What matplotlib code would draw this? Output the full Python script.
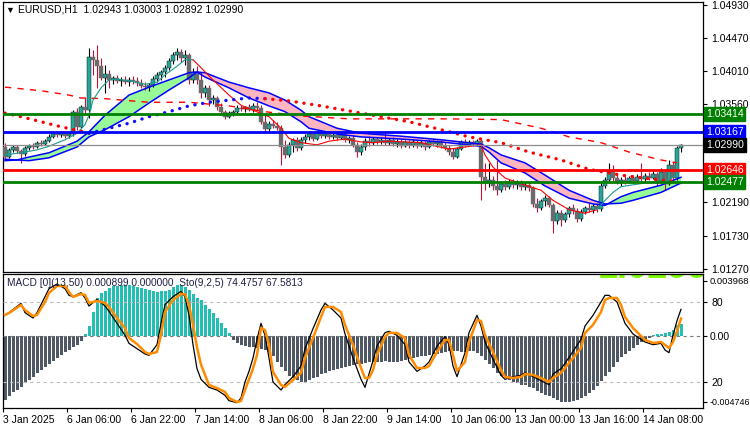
import matplotlib
matplotlib.use("Agg")
import matplotlib.pyplot as plt
import matplotlib.transforms as mtransforms
import numpy as np

plt.rcParams['font.family'] = ['Liberation Sans', 'DejaVu Sans']

# ---------------- data ----------------
title_text = "EURUSD,H1  1.02943 1.03003 1.02892 1.02990"
sub_text = "MACD [0](13,50) 0.000899 0.000000  Sto(9,2,5) 74.4757 67.5813"
x_tick_bars = [0, 16, 32, 48, 64, 80, 96, 112, 128, 144, 160]
x_tick_labels = ["3 Jan 2025", "6 Jan 06:00", "6 Jan 22:00", "7 Jan 14:00", "8 Jan 06:00",
                 "8 Jan 22:00", "9 Jan 14:00", "10 Jan 06:00", "13 Jan 00:00",
                 "13 Jan 16:00", "14 Jan 08:00"]
price_ticks = [1.04930, 1.04470, 1.04010, 1.03560, 1.03100, 1.02650, 1.02190, 1.01730, 1.01270]
hidden_price_ticks = [1.03100, 1.02650]

opens = [1.0296, 1.0282, 1.0292, 1.0296, 1.0290, 1.0286, 1.0295, 1.0297, 1.0296, 1.0302,
         1.0300, 1.0304, 1.0310, 1.0314, 1.0313, 1.0315, 1.0311, 1.0314, 1.0345, 1.0324,
         1.0352, 1.0347, 1.0421, 1.0417, 1.0408, 1.0392, 1.0397, 1.0389, 1.0392, 1.0388,
         1.0389, 1.0386, 1.0389, 1.0388, 1.0385, 1.0381, 1.0379, 1.0382, 1.0390, 1.0396,
         1.0400, 1.0406, 1.0415, 1.0424, 1.0428, 1.0419, 1.0424, 1.0389, 1.0400, 1.0389,
         1.0371, 1.0378, 1.0361, 1.0364, 1.0352, 1.0345, 1.0338, 1.0343, 1.0345, 1.0350,
         1.0349, 1.0352, 1.0347, 1.0353, 1.0350, 1.0331, 1.0321, 1.0328, 1.0325, 1.0322,
         1.0296, 1.0285, 1.0299, 1.0306, 1.0295, 1.0306, 1.0310, 1.0314, 1.0307, 1.0315,
         1.0311, 1.0314, 1.0310, 1.0313, 1.0308, 1.0313, 1.0306, 1.0308, 1.0299, 1.0289,
         1.0296, 1.0304, 1.0302, 1.0307, 1.0303, 1.0306, 1.0302, 1.0306, 1.0300, 1.0303,
         1.0297, 1.0303, 1.0299, 1.0303, 1.0297, 1.0302, 1.0296, 1.0303, 1.0300, 1.0303,
         1.0297, 1.0295, 1.0289, 1.0282, 1.0293, 1.0303, 1.0299, 1.0303, 1.0300, 1.0304,
         1.0254, 1.0246, 1.0250, 1.0242, 1.0236, 1.0245, 1.0241, 1.0248, 1.0243, 1.0246,
         1.0241, 1.0243, 1.0239, 1.0217, 1.0211, 1.0221, 1.0225, 1.0215, 1.0193, 1.0204,
         1.0195, 1.0203, 1.0211, 1.0207, 1.0196, 1.0206, 1.0211, 1.0209, 1.0214, 1.0210,
         1.0242, 1.0250, 1.0263, 1.0253, 1.0248, 1.0250, 1.0248, 1.0253, 1.0249, 1.0254,
         1.0252, 1.0256, 1.0253, 1.0259, 1.0249, 1.0261, 1.0245, 1.0271, 1.0253, 1.02943]
highs = [1.0302, 1.0295, 1.0299, 1.0299, 1.0293, 1.0297, 1.0300, 1.0302, 1.0304, 1.0306,
         1.0307, 1.0314, 1.0318, 1.0317, 1.0318, 1.0318, 1.0317, 1.0347, 1.0350, 1.0354,
         1.0365, 1.0433, 1.0431, 1.0438, 1.0419, 1.0410, 1.0403, 1.0394, 1.0396, 1.0393,
         1.0394, 1.0393, 1.0394, 1.0393, 1.0390, 1.0386, 1.0385, 1.0394, 1.0400, 1.0403,
         1.0410, 1.0419, 1.0428, 1.0433, 1.0432, 1.0431, 1.0426, 1.0406, 1.0408, 1.0400,
         1.0382, 1.0382, 1.0368, 1.0367, 1.0357, 1.0347, 1.0346, 1.0347, 1.0354, 1.0354,
         1.0353, 1.0356, 1.0357, 1.0358, 1.0354, 1.0342, 1.0332, 1.0334, 1.0331, 1.0327,
         1.0306, 1.0303, 1.0308, 1.0310, 1.0310, 1.0314, 1.0318, 1.0317, 1.0318, 1.0320,
         1.0318, 1.0317, 1.0317, 1.0315, 1.0318, 1.0315, 1.0311, 1.0313, 1.0303, 1.0300,
         1.0308, 1.0311, 1.0310, 1.0310, 1.0310, 1.0318, 1.0308, 1.0310, 1.0307, 1.0307,
         1.0306, 1.0306, 1.0307, 1.0306, 1.0306, 1.0304, 1.0306, 1.0307, 1.0306, 1.0306,
         1.0303, 1.0299, 1.0295, 1.0296, 1.0306, 1.0307, 1.0306, 1.0306, 1.0307, 1.0307,
         1.0274, 1.0274, 1.0256, 1.0278, 1.0249, 1.0250, 1.0252, 1.0252, 1.0250, 1.0250,
         1.0248, 1.0248, 1.0242, 1.0225, 1.0224, 1.0229, 1.0228, 1.0218, 1.0209, 1.0209,
         1.0206, 1.0214, 1.0217, 1.0211, 1.0210, 1.0214, 1.0218, 1.0217, 1.0218, 1.0246,
         1.0254, 1.0274, 1.0271, 1.0259, 1.0254, 1.0256, 1.0256, 1.0257, 1.0259, 1.0274,
         1.0260, 1.0261, 1.0264, 1.0261, 1.0267, 1.0264, 1.0278, 1.0275, 1.0297, 1.03003]
lows = [1.0278, 1.0281, 1.0289, 1.0288, 1.0274, 1.0284, 1.0292, 1.0293, 1.0295, 1.0297,
        1.0299, 1.0303, 1.0308, 1.0310, 1.0310, 1.0308, 1.0308, 1.0311, 1.0320, 1.0322,
        1.0340, 1.0336, 1.0396, 1.0378, 1.0389, 1.0371, 1.0378, 1.0383, 1.0385, 1.0381,
        1.0383, 1.0381, 1.0383, 1.0381, 1.0378, 1.0375, 1.0374, 1.0379, 1.0386, 1.0389,
        1.0393, 1.0403, 1.0411, 1.0417, 1.0414, 1.0410, 1.0383, 1.0385, 1.0383, 1.0364,
        1.0365, 1.0353, 1.0356, 1.0347, 1.0342, 1.0335, 1.0336, 1.0339, 1.0342, 1.0346,
        1.0345, 1.0346, 1.0345, 1.0347, 1.0328, 1.0317, 1.0318, 1.0322, 1.0320, 1.0271,
        1.0281, 1.0282, 1.0289, 1.0290, 1.0292, 1.0302, 1.0306, 1.0304, 1.0306, 1.0308,
        1.0308, 1.0307, 1.0307, 1.0306, 1.0307, 1.0303, 1.0302, 1.0296, 1.0282, 1.0285,
        1.0292, 1.0297, 1.0299, 1.0300, 1.0300, 1.0299, 1.0299, 1.0297, 1.0296, 1.0295,
        1.0296, 1.0295, 1.0296, 1.0295, 1.0296, 1.0292, 1.0295, 1.0297, 1.0296, 1.0295,
        1.0292, 1.0285, 1.0279, 1.0281, 1.0292, 1.0296, 1.0297, 1.0297, 1.0297, 1.0222,
        1.0236, 1.0241, 1.0236, 1.0229, 1.0233, 1.0236, 1.0238, 1.0239, 1.0238, 1.0236,
        1.0236, 1.0235, 1.0213, 1.0206, 1.0209, 1.0214, 1.0213, 1.0177, 1.0189, 1.0186,
        1.0192, 1.0199, 1.0203, 1.0192, 1.0193, 1.0203, 1.0206, 1.0204, 1.0206, 1.0207,
        1.0239, 1.0248, 1.0249, 1.0245, 1.0242, 1.0245, 1.0246, 1.0246, 1.0248, 1.0248,
        1.0249, 1.0250, 1.0252, 1.0242, 1.0246, 1.0236, 1.0243, 1.0248, 1.0250, 1.02892]
closes = [1.0282, 1.0292, 1.0296, 1.0290, 1.0286, 1.0295, 1.0297, 1.0296, 1.0302, 1.0300,
          1.0304, 1.0310, 1.0314, 1.0313, 1.0315, 1.0311, 1.0314, 1.0345, 1.0324, 1.0352,
          1.0347, 1.0421, 1.0417, 1.0408, 1.0392, 1.0397, 1.0389, 1.0392, 1.0388, 1.0389,
          1.0386, 1.0389, 1.0388, 1.0385, 1.0381, 1.0379, 1.0382, 1.0390, 1.0396, 1.0400,
          1.0406, 1.0415, 1.0424, 1.0428, 1.0419, 1.0424, 1.0389, 1.0400, 1.0389, 1.0371,
          1.0378, 1.0361, 1.0364, 1.0352, 1.0345, 1.0338, 1.0343, 1.0345, 1.0350, 1.0349,
          1.0352, 1.0347, 1.0353, 1.0350, 1.0331, 1.0321, 1.0328, 1.0325, 1.0322, 1.0296,
          1.0285, 1.0299, 1.0306, 1.0295, 1.0306, 1.0310, 1.0314, 1.0307, 1.0315, 1.0311,
          1.0314, 1.0310, 1.0313, 1.0308, 1.0313, 1.0306, 1.0308, 1.0299, 1.0289, 1.0296,
          1.0304, 1.0302, 1.0307, 1.0303, 1.0306, 1.0302, 1.0306, 1.0300, 1.0303, 1.0297,
          1.0303, 1.0299, 1.0303, 1.0297, 1.0302, 1.0296, 1.0303, 1.0300, 1.0303, 1.0297,
          1.0295, 1.0289, 1.0282, 1.0293, 1.0303, 1.0299, 1.0303, 1.0300, 1.0304, 1.0254,
          1.0246, 1.0250, 1.0242, 1.0236, 1.0245, 1.0241, 1.0248, 1.0243, 1.0246, 1.0241,
          1.0243, 1.0239, 1.0217, 1.0211, 1.0221, 1.0225, 1.0215, 1.0193, 1.0204, 1.0195,
          1.0203, 1.0211, 1.0207, 1.0196, 1.0206, 1.0211, 1.0209, 1.0214, 1.0210, 1.0242,
          1.0250, 1.0263, 1.0253, 1.0248, 1.0250, 1.0248, 1.0253, 1.0249, 1.0254, 1.0252,
          1.0256, 1.0253, 1.0259, 1.0249, 1.0261, 1.0245, 1.0271, 1.0253, 1.0294, 1.02990]

# MA band (two lines, filled)
band_idx = [0, 3, 6, 11, 18, 21, 25, 31, 36, 41, 46, 48, 50, 56, 61, 66, 70, 74, 76, 83, 89,
            99, 109, 119, 121, 124, 130, 135, 141, 147, 150, 154, 157, 164, 169]
band_fast = [1.0277, 1.0278, 1.0282, 1.0288, 1.0304, 1.0317, 1.0340, 1.0368, 1.0379, 1.0389,
             1.0399, 1.0400, 1.0393, 1.0378, 1.0364, 1.0353, 1.0345, 1.0331, 1.0322, 1.0314,
             1.0310, 1.0307, 1.0303, 1.0297, 1.0289, 1.0274, 1.0260, 1.0242, 1.0225, 1.0217,
             1.0215, 1.0227, 1.0233, 1.0243, 1.0254]
band_slow = [1.0279, 1.0278, 1.0277, 1.0281, 1.0296, 1.0310, 1.0320, 1.0338, 1.0357, 1.0375,
             1.0392, 1.0400, 1.0399, 1.0386, 1.0378, 1.0371, 1.0361, 1.0347, 1.0338, 1.0322,
             1.0315, 1.0311, 1.0306, 1.0300, 1.0295, 1.0285, 1.0274, 1.0257, 1.0236, 1.0222,
             1.0217, 1.0218, 1.0222, 1.0233, 1.0246]

# slow dashed MA
slow_idx = [0, 9, 16, 19, 25, 36, 46, 56, 65, 74, 86, 99, 111, 124, 134, 141, 149, 156, 164, 168]
slow_val = [1.0379, 1.0374, 1.0368, 1.0364, 1.0363, 1.0358, 1.0358, 1.0353, 1.0345, 1.0339,
            1.0335, 1.0335, 1.0335, 1.0334, 1.0322, 1.0310, 1.0302, 1.0289, 1.0278, 1.0274]

# dotted MA (changes colour)
dots_idx = [0, 4, 9, 14, 19, 21, 26, 31, 36, 41, 46, 51, 56, 61, 65, 71, 79, 86, 94, 101, 109,
            116, 124, 131, 139, 146, 154, 161, 168]
dots_val = [1.0343, 1.0338, 1.0331, 1.0324, 1.0318, 1.0315, 1.0322, 1.0329, 1.0338, 1.0345,
            1.0353, 1.0358, 1.0361, 1.0364, 1.0363, 1.0360, 1.0353, 1.0346, 1.0338, 1.0331,
            1.0320, 1.0310, 1.0302, 1.0289, 1.0278, 1.0265, 1.0257, 1.0252, 1.0248]
dots_switch = [21, 65]
dots_colors = ['#FF0000', '#1010FF', '#FF0000']

# fast thin MA (changes colour)
fast_idx = [0, 4, 8, 11, 15, 18, 20, 21, 22, 24, 26, 28, 31, 35, 38, 40, 43, 45, 47,
            49, 52, 56, 59, 62, 66, 69, 71, 74, 78, 81, 85, 89, 92, 96, 104, 111, 115, 119,
            120, 122, 125, 129, 134, 137, 141, 145, 148, 150, 152, 154, 160, 166, 169]
fast_val = [1.0285, 1.0288, 1.0292, 1.0297, 1.0306, 1.0315, 1.0327, 1.0340, 1.0361, 1.0378,
            1.0389, 1.0390, 1.0388, 1.0383, 1.0386, 1.0396, 1.0408, 1.0417, 1.0417,
            1.0406, 1.0389, 1.0368, 1.0354, 1.0347, 1.0338, 1.0322, 1.0308, 1.0302, 1.0299,
            1.0304, 1.0307, 1.0303, 1.0302, 1.0304, 1.0302, 1.0293, 1.0296, 1.0299,
            1.0285, 1.0268, 1.0253, 1.0245, 1.0236, 1.0222, 1.0209, 1.0204, 1.0209,
            1.0222, 1.0233, 1.0241, 1.0246, 1.0250, 1.0264]
fast_switch = [47, 148]
fast_colors = ['#169C8C', '#FF0000', '#169C8C']

# horizontal levels
level_prices = [1.03414, 1.03167, 1.02646, 1.02477]
level_colors = ['#008000', '#0000FF', '#FF0000', '#008000']
last_price = 1.02990

# MACD histogram
macd_hist = [-0.00461, -0.00432, -0.00403, -0.00389, -0.00367, -0.00338, -0.00317, -0.00295, -0.00266, -0.00245,
             -0.00223, -0.00202, -0.00180, -0.00158, -0.00137, -0.00115, -0.00101, -0.00079, -0.00065, -0.00036,
             0.00014, 0.00072, 0.00173, 0.00274, 0.00310, 0.00324, 0.00346, 0.00360, 0.00360, 0.00367,
             0.00367, 0.00367, 0.00360, 0.00353, 0.00346, 0.00338, 0.00331, 0.00324, 0.00317, 0.00324,
             0.00324, 0.00331, 0.00353, 0.00367, 0.00367, 0.00353, 0.00331, 0.00302, 0.00274, 0.00259,
             0.00223, 0.00194, 0.00166, 0.00130, 0.00094, 0.00058, 0.00022, -0.00029, -0.00050, -0.00065,
             -0.00072, -0.00079,
             -0.00079, -0.00086, -0.00094, -0.00101, -0.00115, -0.00144, -0.00187, -0.00223, -0.00252, -0.00288,
             -0.00302, -0.00317, -0.00331, -0.00331, -0.00317, -0.00302, -0.00295, -0.00274, -0.00266, -0.00252,
             -0.00245, -0.00238, -0.00230, -0.00223, -0.00216, -0.00209, -0.00202, -0.00202, -0.00194, -0.00187,
             -0.00187, -0.00187, -0.00187, -0.00180, -0.00187, -0.00187, -0.00187, -0.00180, -0.00173, -0.00166,
             -0.00158, -0.00151, -0.00144, -0.00144, -0.00137, -0.00130, -0.00130, -0.00122, -0.00115, -0.00108,
             -0.00108, -0.00108, -0.00115, -0.00115, -0.00108, -0.00108, -0.00122, -0.00144, -0.00173, -0.00202,
             -0.00230, -0.00266,
             -0.00288, -0.00302, -0.00317, -0.00331, -0.00338, -0.00353, -0.00353, -0.00367, -0.00374, -0.00396,
             -0.00410, -0.00425, -0.00432, -0.00446, -0.00461, -0.004746, -0.004746, -0.004746, -0.00468, -0.00461,
             -0.00446, -0.00432, -0.00410, -0.00389, -0.00360, -0.00324, -0.00288, -0.00259, -0.00223, -0.00187,
             -0.00151, -0.00130, -0.00108, -0.00086, -0.00065, -0.00043, -0.00029, -0.00014, 0.00007, 0.00014,
             0.00014, 0.00022, 0.00029, 0.00043, 0.00079, 0.000899]
macd_ticks = [0.003968, 0.0, -0.004746]
macd_tick_labels = ["0.003968", "0.00", "-0.004746"]
macd_tick_sizes = [6.8, 7.5, 6.4]

# Stochastic (9,2,5)
stoch_idx = [0, 1, 4, 5, 7, 8, 10, 11, 13, 15, 16, 17, 19, 20, 21, 23, 25, 26, 28, 30, 31, 33, 35,
             36, 38, 39, 40, 42, 44, 45, 46, 47, 48, 49, 51, 53, 55, 56, 58, 59, 60, 61, 62, 63,
             64, 65, 66, 67, 69, 70, 72, 74, 75, 77, 79, 80, 82, 84, 85, 87, 89, 90, 91, 92, 93,
             95, 96, 98, 100, 101, 103, 105, 106, 108, 110, 111, 112, 113, 115, 116, 118, 119,
             120, 122, 124, 125, 127, 129, 130, 132, 134, 136, 137, 139, 140, 142, 144, 145,
             147, 149, 150, 151, 153, 154, 155, 157, 159, 160, 162, 164, 165, 166, 167, 168, 169]
stoch_d = [70.3, 71.7, 77.8, 74.0, 69.5, 70.3, 80.0, 86.8, 92.0, 92.0, 87.5, 83.8, 86.0, 85.3, 79.3,
           80.8, 79.3, 76.3, 68.0, 60.5, 53.0, 48.5, 42.5, 41.0, 42.5, 55.3, 72.5, 81.5, 86.0,
           86.0, 77.8, 63.0, 46.0, 33.0, 17.8, 15.5, 12.5, 8.0, 5.0, 5.75, 14.0, 22.0, 30.0, 40.3,
           60.5, 59.0, 47.8, 27.5, 17.8, 16.3, 21.5, 26.8, 38.0, 53.0, 68.8, 76.3, 76.3, 72.5,
           62.8, 47.8, 30.5, 23.0, 23.0, 29.0, 40.3, 53.8, 56.8, 56.8, 53.0, 40.3, 30.5, 30.5,
           32.0, 42.5, 51.5, 51.5, 40.3, 28.3, 35.0, 50.0, 66.5, 65.8, 55.3, 42.5, 29.0, 23.8,
           23.0, 23.8, 26.0, 25.3, 23.0, 20.0, 23.0, 26.8, 30.5, 38.0, 45.5, 56.8, 62.8, 72.5,
           81.5, 83.0, 83.0, 77.8, 68.8, 60.5, 54.5, 51.5, 49.3, 50.0, 47.8, 45.5, 50.0, 58.0, 67.58]
stoch_k = [70.3, 72, 79, 72, 68, 72, 84, 90, 93.5, 90, 85, 84, 87, 83, 77,
           82, 77, 73, 64, 55, 49, 45, 41, 40, 48, 64, 78, 84, 88,
           84, 70, 48, 30, 22, 16, 14, 10, 6, 4.5, 8, 20, 28, 38, 52,
           64, 55, 38, 20, 14, 18, 24, 32, 45, 60, 74, 79, 74, 68,
           56, 38, 22, 16, 26, 36, 47, 57, 58, 55, 48, 35, 28, 32,
           35, 47, 54, 48, 32, 24, 42, 57, 70, 62, 50, 37, 25, 22,
           24, 25, 27, 24, 21, 18, 26, 30, 34, 43, 52, 62, 70, 80,
           85, 85, 80, 72, 64, 56, 52, 50, 48, 49, 44, 42, 55, 66, 74.48]
stoch_levels = [80, 20]

# ---------------- figure ----------------
W, H = 750, 430
fig = plt.figure(figsize=(W / 100, H / 100), dpi=100)


def rect(x0, y0, x1, y1):
    return [x0 / W, 1 - y1 / H, (x1 - x0) / W, (y1 - y0) / H]


ax = fig.add_axes(rect(3, 2, 703, 272))
ax2 = fig.add_axes(rect(3, 274, 703, 408), sharex=ax)

for a in (ax, ax2):
    for s in a.spines.values():
        s.set_color('black')
        s.set_linewidth(0.9)

n = len(closes)
idx = np.arange(n)
o = np.array(opens); h = np.array(highs); l = np.array(lows); c = np.array(closes)
up = c >= o

# band
bi = np.array(band_idx, dtype=float)
bf = np.array(band_fast); bs = np.array(band_slow)
ax.fill_between(bi, bf, bs, where=bf >= bs, interpolate=True, color='#98FB98', lw=0, zorder=1)
ax.fill_between(bi, bf, bs, where=bf < bs, interpolate=True, color='#FFB6C1', lw=0, zorder=1)
ax.plot(bi, bf, color='#0000FF', lw=1.1, zorder=4)
ax.plot(bi, bs, color='#0000FF', lw=1.1, zorder=4)

# candles
body_lo = np.minimum(o, c)
body_h = np.maximum(np.abs(c - o), 0.00008)
ax.vlines(idx[up], l[up], h[up], color='black', lw=0.8, zorder=2)
ax.vlines(idx[~up], l[~up], h[~up], color='#C0143C', lw=0.8, zorder=2)
ax.bar(idx[up], body_h[up], bottom=body_lo[up], width=0.8, color='#26A69A',
       edgecolor='black', linewidth=0.3, zorder=3)
ax.bar(idx[~up], body_h[~up], bottom=body_lo[~up], width=0.8, color='#6B6B6B',
       edgecolor='#6B6B6B', linewidth=0.3, zorder=3)

# slow dashed MA
ax.plot(slow_idx, slow_val, color='#FF0000', lw=1.0, ls=(0, (4.5, 4.5)), zorder=4)


def split_plot(xs, ys, switches, colors, **kw):
    bounds = [xs[0]] + list(switches) + [xs[-1]]
    for k in range(len(bounds) - 1):
        sel = [j for j, xv in enumerate(xs) if bounds[k] <= xv <= bounds[k + 1]]
        ax.plot([xs[j] for j in sel], [ys[j] for j in sel], color=colors[k], **kw)


split_plot(dots_idx, dots_val, dots_switch, dots_colors, lw=2.4,
           ls=(0, (0.05, 2.3)), dash_capstyle='round', zorder=4.5)
split_plot(fast_idx, fast_val, fast_switch, fast_colors, lw=0.8, zorder=4.2)

# levels
for p, col in zip(level_prices, level_colors):
    ax.axhline(p, color=col, lw=2.0, zorder=5)
ax.axhline(last_price, color='#8C8C8C', lw=0.9, zorder=4.8)

ax.set_xlim(-0.5, 174.5)
ax.set_ylim(1.01226, 1.04971)
ax.yaxis.tick_right()
ax.set_yticks(price_ticks)
ax.set_yticklabels(["" if p in hidden_price_ticks else "%.5f" % p for p in price_ticks])
ax.tick_params(axis='y', length=3, width=0.8, pad=3, labelsize=7.5, colors='black')
ax.tick_params(axis='x', which='both', length=0, labelbottom=False)

# right price boxes
tr = mtransforms.blended_transform_factory(ax.transAxes, ax.transData)
for p, col in list(zip(level_prices, level_colors)) + [(last_price, '#000000')]:
    ax.text(1.004, p, "%.5f" % p, transform=tr, ha='left', va='center', fontsize=7.5,
            color='white', zorder=10, clip_on=False,
            bbox=dict(boxstyle='square,pad=0.18', fc=col, ec=col))

# title
fig.text(5 / W, 1 - 10 / H, "\u25BC", fontsize=6.5, va='center', ha='left', color='black')
fig.text(18 / W, 1 - 10 / H, title_text, fontsize=7.5, va='center', ha='left', color='black')

# ---------------- lower panel ----------------
hist = np.array(macd_hist)
hcol = ['#24BFB3' if v >= 0 else '#4F5966' for v in hist]
ax2.bar(idx, hist, width=0.75, color=hcol, lw=0, zorder=2)
ax2.axhline(0, color='#7A7A7A', lw=0.8, ls=(0, (3, 3)), zorder=3)
ax2.set_ylim(-0.005185, 0.004465)

big = ax2.text(0.849, 0.97, "1.0299", transform=ax2.transAxes, fontsize=26, fontweight='bold',
               color='#7CFC00', ha='left', va='baseline', zorder=1)
big.set_clip_box(ax2.bbox)
big.set_clip_on(True)

ax3 = ax2.twinx()
ax3.set_ylim(0.5, 101.0)
for lv in stoch_levels:
    ax3.axhline(lv, color='#BBBBBB', lw=0.8, ls=(0, (3, 3)), zorder=1)
ax3.plot(stoch_idx, stoch_k, color='black', lw=0.9, zorder=3)
ax3.plot(stoch_idx, stoch_d, color='#FF8C00', lw=1.8, zorder=4)
ax3.set_yticks(stoch_levels)
ax3.set_yticklabels([str(v) for v in stoch_levels])
ax3.tick_params(axis='y', length=3, width=0.8, pad=3, labelsize=7.5, colors='black')
for s in ax3.spines.values():
    s.set_visible(False)

# MACD scale on the right as well (after twinx)
ax2.yaxis.set_ticks_position('right')
ax2.yaxis.set_label_position('right')
ax2.set_yticks(macd_ticks)
ax2.set_yticklabels(macd_tick_labels)
ax2.tick_params(axis='y', which='both', left=False, labelleft=False, right=True, labelright=True,
                length=3, width=0.8, pad=2, colors='black')
for t, fs in zip(ax2.get_yticklabels(), macd_tick_sizes):
    t.set_fontsize(fs)

ax2.set_xticks([b - 0.5 for b in x_tick_bars])
ax2.set_xticklabels(x_tick_labels)
for t in ax2.get_xticklabels():
    t.set_ha('left')
ax2.tick_params(axis='x', length=3, width=0.8, pad=2, labelsize=7.5, colors='black')
ax2.set_xlim(-0.5, 174.5)

fig.text(7 / W, 1 - 283 / H, sub_text, fontsize=7.3, va='center', ha='left', color='#1E1E46')

fig.savefig("out.png", dpi=100, facecolor='white')
